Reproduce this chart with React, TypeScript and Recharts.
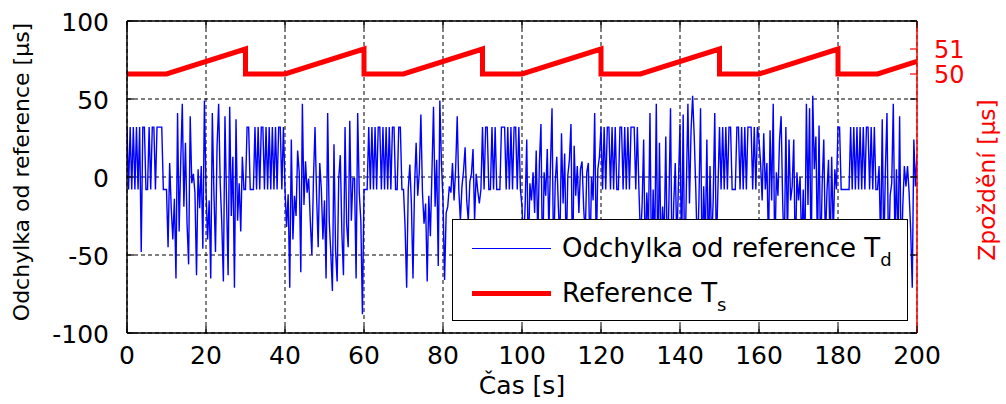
import React from "react";
import { LineChart, Line, XAxis, YAxis, CartesianGrid, ReferenceLine } from "recharts";

// sampling step of the deviation signal [s]
const STEP = 0.4;

// Odchylka od reference T_d [µs], read segment by segment
const SEG_00_10 = [32, -8, 32, -8, 32, -8, 32, -8, 32, -48, 32, 32, -8, -8, 32, -8, 32, 32, -8, 32, 32, 32, 32, -8, -8];
const SEG_10_30 = [
  -8, -45, 9, -20, -40, -14, -65, 41, -35, 10, 47, -19, 22, -30, -56, 39, -4, 2, -10, -63, 5, -20, 7, -46, 49,
  -8, -40, -15, -65, 41, -10, -48, 20, 47, -4, -30, -67, 39, -15, -63, 45, -25, 13, -71, 37, -28, -4, -35, 13, -8,
];
const SEG_30_40 = [-8, 32, 32, -8, -8, -8, 32, -8, 32, -8, 32, 32, -8, 32, -8, 32, -8, 32, -8, 32, -8, 32, 32, -8, 32];
const SEG_40_60 = [
  -8, -32, -11, -71, 24, -40, -12, -25, 17, 3, -61, 47, -18, 10, -10, -1, -28, -50, -2, 32, -12, -45, 9, -8, -40,
  -15, -65, 41, -28, -49, -73, 21, -47, -67, -1, 14, -36, -63, 32, -30, -45, 36, -28, -1, -1, -65, 41, -10, -28, -88,
];
const SEG_60_70 = [-8, -8, -8, 32, -8, 32, -8, 32, -8, 32, 32, -8, 32, -8, 32, -8, 32, -8, 32, 32, -8, -8, 32, 32, -8];
const SEG_70_90 = [
  -8, -32, -71, -8, 8, -17, -65, -6, 22, -12, 3, 40, -10, -30, -17, -67, -12, -38, 3, 45, -19, 11, -57, 49, 9,
  -15, -66, -23, -19, -6, -10, 9, -15, 5, 39, -8, -28, -6, 4, 19, -15, -28, -3, 2, 18, -28, 2, -9, -17, -8,
];
const SEG_90_100 = [32, -8, 32, 32, -8, -8, 32, -8, 32, -8, -8, -8, 32, 32, 32, -8, 32, -8, 32, -8, 32, 32, -8, 32, -8];
const SEG_100_120 = [
  -19, -45, -18, 24, -55, -4, -15, 3, -23, 17, -40, 9, 34, -62, 3, -12, 18, -35, 7, 44, -58, -4, 13, -19, -42,
  28, -17, 15, -50, 1, 11, 34, -64, 20, -12, 7, -23, 5, 10, -19, -38, 3, 9, -55, 0, -15, 41, -48, 5, 13,
];
const SEG_120_130 = [32, -8, 32, -8, 32, 32, -8, 32, -8, 32, -8, -8, 32, 32, -8, 32, -8, 32, -8, 32, 32, 32, -8, 32, -8];
const SEG_130_150 = [
  -40, -19, 24, -55, -10, -35, 41, -60, -8, -45, 47, -65, 22, -50, -19, -40, 26, -58, -15, 44, -62, -18, 9, -45, -4,
  34, -55, 40, -66, -8, 47, -17, 30, 52, 26, -8, -50, -15, 44, -60, -6, -42, 24, -58, 7, -45, -15, 41, -48, -8,
];
const SEG_150_160 = [32, -8, 32, -8, 32, -8, 32, 32, -8, -8, -8, 32, 32, -8, 32, -8, 32, -8, 32, 32, 32, -8, 32, -8, 32];
const SEG_160_180 = [
  24, 9, -15, 28, -8, 9, -45, 30, -15, 47, -55, 3, -12, 24, 39, -17, -50, 32, -40, 24, -15, -6, 24, -58, 3,
  -15, 0, -45, -8, -52, 47, -18, 44, -60, 52, 5, 26, -48, 33, -55, -4, 24, -42, -10, 11, -50, 13, -38, 5, -8,
];
const SEG_180_190 = [32, 32, -8, -8, -8, -8, -8, -8, 32, -8, 32, -8, 32, -8, 32, -8, 32, -8, 32, 32, -8, 32, -8, 32, -8];
const SEG_190_200 = [-8, 7, -45, 37, -50, 5, 41, -55, -12, -4, 47, -40, 5, -48, 39, -58, -19, 7, -6, 7, -10, -34, -71, 24, -6, 14];

const DEVIATION = [
  ...SEG_00_10, ...SEG_10_30, ...SEG_30_40, ...SEG_40_60, ...SEG_60_70, ...SEG_70_90, ...SEG_90_100,
  ...SEG_100_120, ...SEG_120_130, ...SEG_130_150, ...SEG_150_160, ...SEG_160_180, ...SEG_180_190, ...SEG_190_200,
];

// Reference T_s [µs] (right axis), breakpoints
const REF_T = [0, 10, 30, 30, 40, 60, 60, 70, 90, 90, 100, 120, 120, 130, 150, 150, 160, 180, 180, 190, 200];
const REF_V = [50, 50, 51, 50, 50, 51, 50, 50, 51, 50, 50, 51, 50, 50, 51, 50, 50, 51, 50, 50, 50.5];

const X_TICKS = [0, 20, 40, 60, 80, 100, 120, 140, 160, 180, 200];
const Y_TICKS = [-100, -50, 0, 50, 100];
const Y2_TICKS = [50, 51];

const devData = DEVIATION.map((v, i) => ({ t: Math.round(i * STEP * 10) / 10, v }));
const refData = REF_T.map((t, i) => ({ t, v: REF_V[i] }));

const FONT = "DejaVu Sans";
const W = 1006;
const H = 404;
const PLOT_L = 127;
const PLOT_R = 917;
const PLOT_T = 21;
const PLOT_B = 333;
const TICK = 7;

const XTick = ({ x, y, payload }: any) => (
  <g>
    <line x1={x} x2={x} y1={PLOT_B} y2={PLOT_B - TICK} stroke="#000" strokeWidth={1.2} />
    <line x1={x} x2={x} y1={PLOT_T} y2={PLOT_T + TICK} stroke="#000" strokeWidth={1.2} />
    <text x={x} y={y} dy={19} textAnchor="middle" fontFamily={FONT} fontSize={25} fill="#000">
      {payload.value}
    </text>
  </g>
);

const YTick = ({ x, y, payload }: any) => (
  <g>
    <line x1={PLOT_L} x2={PLOT_L + TICK} y1={y} y2={y} stroke="#000" strokeWidth={1.2} />
    <line x1={PLOT_R - TICK} x2={PLOT_R} y1={y} y2={y} stroke="#000" strokeWidth={1.2} />
    <text x={x} y={y} dy={10} textAnchor="end" fontFamily={FONT} fontSize={25} fill="#000">
      {payload.value}
    </text>
  </g>
);

const Y2Tick = ({ x, y, payload }: any) => (
  <g>
    <line x1={PLOT_R - TICK} x2={PLOT_R} y1={y} y2={y} stroke="#ff0000" strokeWidth={1.2} />
    <text x={x} y={y} dy={8.5} textAnchor="start" fontFamily={FONT} fontSize={24} fill="#ff0000">
      {payload.value}
    </text>
  </g>
);

function Sub({ main, sub }: { main: string; sub: string }) {
  return (
    <span>
      {main}
      <span style={{ fontSize: 18, position: "relative", top: 9 }}>{sub}</span>
    </span>
  );
}

export default function App() {
  return (
    <div style={{ position: "absolute", left: 0, top: 0, width: W, height: H, background: "#fff", fontFamily: FONT }}>
      <LineChart width={W} height={H} margin={{ top: PLOT_T, right: 0, bottom: 0, left: 0 }}>
        <CartesianGrid xAxisId="x" yAxisId="left" stroke="#000" strokeWidth={1} strokeDasharray="4 3" />
        <XAxis
          xAxisId="x"
          type="number"
          dataKey="t"
          domain={[0, 200]}
          ticks={X_TICKS}
          height={H - PLOT_B}
          tickSize={0}
          tickMargin={12}
          tickLine={false}
          axisLine={{ stroke: "#000", strokeWidth: 1.5 }}
          tick={<XTick />}
          allowDataOverflow
        />
        <YAxis
          yAxisId="left"
          domain={[-100, 100]}
          ticks={Y_TICKS}
          width={PLOT_L}
          tickSize={0}
          tickMargin={18}
          tickLine={false}
          axisLine={{ stroke: "#000", strokeWidth: 1.5 }}
          tick={<YTick />}
          allowDataOverflow
        />
        <YAxis
          yAxisId="right"
          orientation="right"
          domain={[39.64, 52.12]}
          ticks={Y2_TICKS}
          width={W - PLOT_R}
          tickSize={0}
          tickMargin={17}
          tickLine={false}
          axisLine={{ stroke: "#ff0000", strokeWidth: 1.5 }}
          tick={<Y2Tick />}
          allowDataOverflow
        />
        <ReferenceLine xAxisId="x" yAxisId="left" y={100} stroke="#000" strokeWidth={1.5} />
        <Line
          xAxisId="x"
          yAxisId="left"
          data={devData}
          dataKey="v"
          type="linear"
          stroke="#0000ff"
          strokeWidth={1.4}
          dot={false}
          activeDot={false}
          isAnimationActive={false}
        />
        <Line
          xAxisId="x"
          yAxisId="right"
          data={refData}
          dataKey="v"
          type="linear"
          stroke="#ff0000"
          strokeWidth={5}
          dot={false}
          activeDot={false}
          isAnimationActive={false}
        />
      </LineChart>

      {/* axis titles */}
      <div
        style={{
          position: "absolute", left: 22, top: 172, transform: "translate(-50%, -50%) rotate(-90deg)",
          whiteSpace: "nowrap", fontSize: 22, lineHeight: 1, color: "#000",
        }}
      >
        Odchylka od reference [µs]
      </div>
      <div
        style={{
          position: "absolute", left: 988, top: 180, transform: "translate(-50%, -50%) rotate(-90deg)",
          whiteSpace: "nowrap", fontSize: 23.5, lineHeight: 1, color: "#ff0000",
        }}
      >
        Zpoždění [µs]
      </div>
      <div
        style={{
          position: "absolute", left: 522, top: 385, transform: "translate(-50%, -50%)",
          whiteSpace: "nowrap", fontSize: 25, lineHeight: 1, color: "#000",
        }}
      >
        Čas [s]
      </div>

      {/* legend */}
      <div
        style={{
          position: "absolute", left: 452, top: 219, width: 456, height: 102, boxSizing: "border-box",
          border: "1.5px solid #000", background: "#fff", fontSize: 26, color: "#000",
        }}
      >
        <div style={{ position: "absolute", left: 19, top: 28, width: 79, height: 1.4, background: "#0000ff" }} />
        <div style={{ position: "absolute", left: 109, top: 13, lineHeight: "30px", whiteSpace: "nowrap" }}>
          <Sub main="Odchylka od reference T" sub="d" />
        </div>
        <div style={{ position: "absolute", left: 19, top: 71, width: 79, height: 5, background: "#ff0000" }} />
        <div style={{ position: "absolute", left: 109, top: 58, lineHeight: "30px", whiteSpace: "nowrap" }}>
          <Sub main="Reference T" sub="s" />
        </div>
      </div>
    </div>
  );
}
